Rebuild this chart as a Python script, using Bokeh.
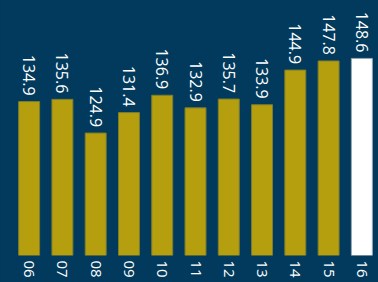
import math
from bokeh.plotting import figure
from bokeh.models import ColumnDataSource, Range1d, FactorRange, GlobalInlineStyleSheet
from bokeh.core.properties import value
from bokeh.embed import file_html
from bokeh.resources import INLINE

years = ["06", "07", "08", "09", "10", "11", "12", "13", "14", "15", "16"]
values = [134.9, 135.6, 124.9, 131.4, 136.9, 132.9, 135.7, 133.9, 144.9, 147.8, 148.6]
labels = ["134.9", "135.6", "124.9", "131.4", "136.9", "132.9", "135.7", "133.9", "144.9", "147.8", "148.6"]

BG = "#013a5c"
GOLD = "#b59f0e"
fills = [GOLD] * (len(years) - 1) + ["#ffffff"]
edges = ["#7d7c2c"] * (len(years) - 1) + ["#9aa7b3"]

src = ColumnDataSource(dict(x=years, top=values, label=labels, fill=fills, edge=edges))

p = figure(x_range=FactorRange(factors=years), y_range=Range1d(86.0, 167.0),
           width=378, height=282, output_backend="svg", toolbar_location=None,
           min_border_left=12, min_border_right=0, min_border_top=0, min_border_bottom=27)
p.background_fill_color = BG
p.border_fill_color = BG
p.outline_line_color = None
p.xgrid.grid_line_color = None
p.ygrid.grid_line_color = None
p.yaxis.visible = False
p.x_range.range_padding = 0

p.vbar(x="x", top="top", bottom=86.0, width=0.63, fill_color="fill", line_color="edge",
       line_width=1, source=src)

p.text(x="x", y="top", text="label", angle=-math.pi / 2, text_align="right",
       text_baseline="middle", y_offset=-6, text_color="white",
       text_font=value("Open Sans"), text_font_size="16px", source=src)

ax = p.xaxis[0]
ax.axis_line_color = None
ax.major_tick_line_color = None
ax.minor_tick_line_color = None
ax.major_tick_out = 0
ax.major_tick_in = 0
ax.major_label_orientation = -math.pi / 2
ax.major_label_text_color = "white"
ax.major_label_text_font = "Open Sans"
ax.major_label_text_font_size = "15px"
ax.major_label_standoff = 5

p.stylesheets = [GlobalInlineStyleSheet(css="html, body { background: #013a5c; overflow: hidden; }")]

open("out.html", "w").write(file_html(p, INLINE))
